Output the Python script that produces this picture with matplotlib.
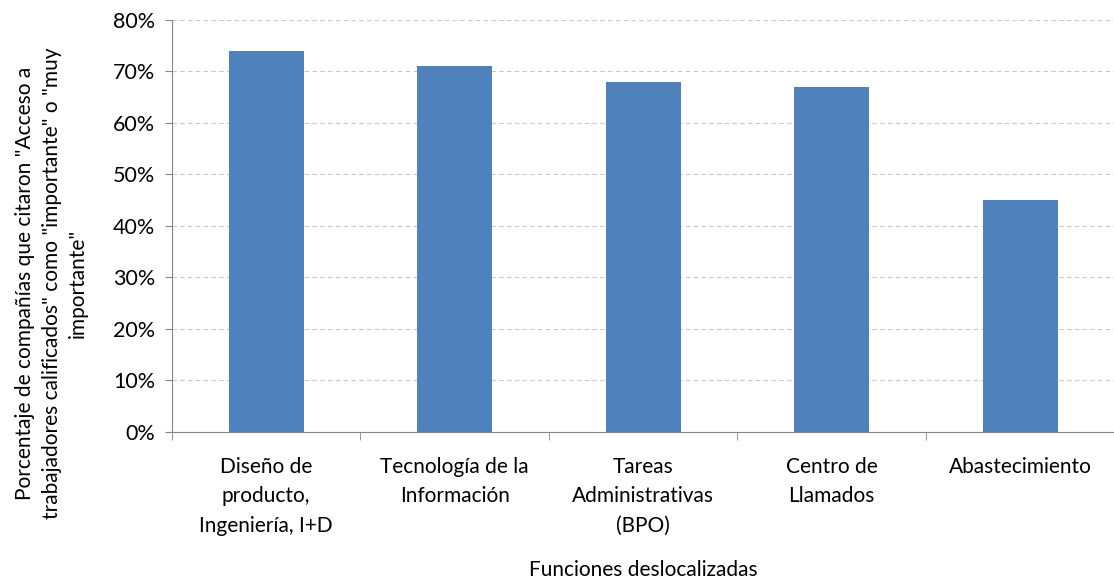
import matplotlib.pyplot as plt
import numpy as np
from matplotlib.ticker import PercentFormatter

categories = [
    "Diseño de\nproducto,\nIngeniería, I+D",
    "Tecnología de la\nInformación",
    "Tareas\nAdministrativas\n(BPO)",
    "Centro de\nLlamados",
    "Abastecimiento",
]
values = [74, 71, 68, 67, 45]
y_ticks = [0, 10, 20, 30, 40, 50, 60, 70, 80]

plt.rcParams["font.family"] = ["Lato", "DejaVu Sans"]

fig = plt.figure(figsize=(11.14, 5.84), dpi=100)
ax = fig.add_axes([0.1544, 0.2603, 0.846, 0.7055])

x = np.arange(len(categories))
ax.bar(x, values, width=0.4, color="#4F81BD", zorder=3)

ax.set_xlim(-0.5, len(categories) - 0.5)
ax.set_ylim(0, 80)
ax.set_yticks(y_ticks)
ax.yaxis.set_major_formatter(PercentFormatter(decimals=0))
ax.grid(axis="y", linestyle=(0, (4, 3)), color="#c8c8c8", linewidth=0.8, zorder=0)

# category labels centered, ticks at category boundaries
ax.set_xticks(x)
ax.set_xticklabels(categories, fontsize=15, linespacing=1.58)
ax.tick_params(axis="x", length=0, pad=18)
ax.set_xticks(np.arange(len(categories) + 1) - 0.5, minor=True)
ax.tick_params(axis="x", which="minor", length=6, color="#868686")
ax.tick_params(axis="y", labelsize=15.5, length=5, color="#868686", pad=7)

for side in ["top", "right"]:
    ax.spines[side].set_visible(False)
for side in ["left", "bottom"]:
    ax.spines[side].set_color("#868686")

ax.set_xlabel("Funciones deslocalizadas", fontsize=15)
ax.xaxis.set_label_coords(0.5, -0.31)
ax.set_ylabel('Porcentaje de compañías que citaron "Acceso a\n'
              'trabajadores calificados" como "importante" o "muy\n'
              'importante"', fontsize=15, linespacing=1.4)
ax.yaxis.set_label_coords(-0.089, 0.36)

fig.savefig("out.png", dpi=100)
